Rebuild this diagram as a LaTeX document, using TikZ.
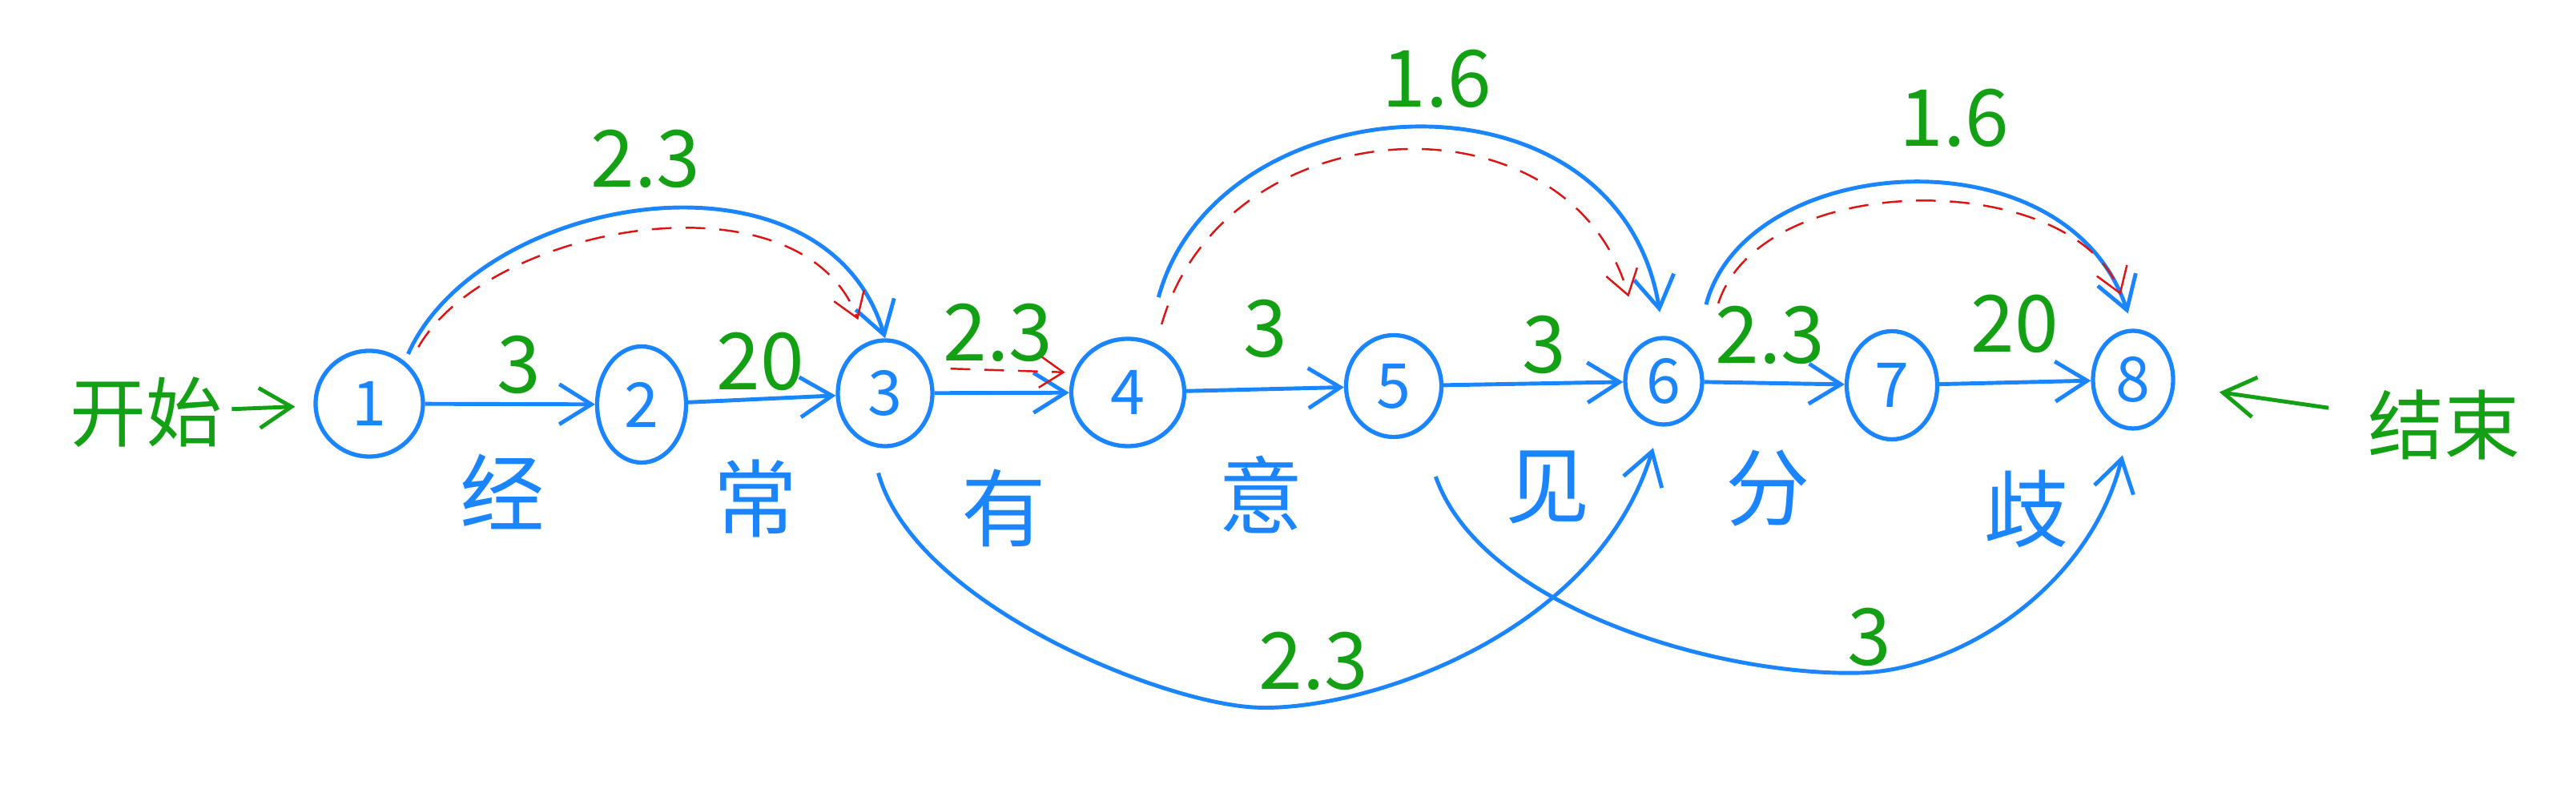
\documentclass[tikz,border=0pt]{standalone}
\usepackage{fontspec}
\newfontfamily\cjk{Noto Sans CJK SC}
\usepackage{xcolor}
\definecolor{hblue}{RGB}{26,133,255}
\definecolor{hgreen}{RGB}{20,160,20}
\definecolor{hred}{RGB}{220,20,20}
\usepackage{tikz}
\usetikzlibrary{arrows.meta,positioning,shapes.geometric}

\begin{document}
\begin{tikzpicture}[
  vert/.style={ellipse, draw=hblue, line width=1.5pt, text=hblue, inner sep=0pt, font=\cjk\fontsize{22}{26}\selectfont},
  link/.style={draw=hblue, line width=1.4pt, -{Straight Barb[length=4mm,width=5mm]}},
  bestpath/.style={draw=hred, line width=0.7pt, dash pattern=on 7pt off 5pt, -{Straight Barb[length=3mm,width=4mm]}},
  signarrow/.style={draw=hgreen, line width=1.4pt, -{Straight Barb[length=4mm,width=5mm]}},
  wt/.style={text=hgreen, font=\cjk\fontsize{28}{32}\selectfont},
  ch/.style={text=hblue, font=\cjk\fontsize{30}{34}\selectfont},
  signtext/.style={text=hgreen, font=\cjk\fontsize{27}{31}\selectfont},
]
  \useasboundingbox (0,0) rectangle (32.16,10);

  % lattice nodes
  \node[vert, minimum width=1.34cm, minimum height=1.32cm] (n1) at (4.61,4.96) {1};
  \node[vert, minimum width=1.11cm, minimum height=1.45cm] (n2) at (8.01,4.95) {2};
  \node[vert, minimum width=1.18cm, minimum height=1.32cm] (n3) at (11.05,5.09) {3};
  \node[vert, minimum width=1.41cm, minimum height=1.34cm] (n4) at (14.08,5.10) {4};
  \node[vert, minimum width=1.19cm, minimum height=1.27cm] (n5) at (17.40,5.18) {5};
  \node[vert, minimum width=0.96cm, minimum height=1.08cm] (n6) at (20.77,5.24) {6};
  \node[vert, minimum width=1.13cm, minimum height=1.35cm] (n7) at (23.62,5.19) {7};
  \node[vert, minimum width=1.00cm, minimum height=1.22cm] (n8) at (26.63,5.26) {8};

  \node[signtext] (start) at (1.82,4.85) {开始};
  \node[signtext] (stop) at (30.51,4.70) {结束};
  \draw[signarrow, shorten >=0.23cm] (start) -- (n1);
  \draw[signarrow, shorten <=0.37cm, shorten >=0.56cm] (stop) -- (n8);

  % single characters
  \draw[link] (n1) -- (n2);
  \draw[link] (n2) -- (n3);
  \draw[link] (n3) -- (n4);
  \draw[link] (n4) -- (n5);
  \draw[link] (n5) -- (n6);
  \draw[link] (n6) -- (n7);
  \draw[link] (n7) -- (n8);

  % words above
  \draw[link, shorten <=0.1cm] (n1.50) .. controls (6.0,7.6) and (10.3,8.3) .. (n3.north);
  \draw[link, shorten <=0.55cm, shorten >=0.3cm] (n4.70) .. controls (15.2,9.0) and (20.2,9.3) .. (n6.north);
  \draw[link, shorten <=0.6cm, shorten >=0.2cm] (n6.45) .. controls (21.8,8.1) and (25.8,8.4) .. (n8.north);

  % words below
  \draw[link, shorten <=0.35cm, shorten >=0.28cm] (n3.255) .. controls (11.4,2.5) and (14.4,1.25) .. (15.64,1.17)
    .. controls (16.9,1.09) and (19.9,2.0) .. (n6.265);
  \draw[link, shorten <=0.6cm, shorten >=0.32cm] (n5.300) .. controls (18.5,2.4) and (21.5,1.55) .. (23.23,1.6)
    .. controls (24.5,1.64) and (26.1,2.7) .. (n8.265);

  % best path
  \draw[bestpath, shorten <=0.25cm, shorten >=0.3cm] (n1.45) .. controls (6.1,7.2) and (10.0,7.9) .. (n3.110);
  \draw[bestpath, shorten <=0.27cm, shorten >=0.1cm] (n3.30) -- (n4.160);
  \draw[bestpath, shorten <=0.25cm, shorten >=0.6cm] (n4.60) .. controls (15.3,8.7) and (19.6,8.9) .. (n6.120);
  \draw[bestpath, shorten <=0.75cm, shorten >=0.45cm] (n6.30) .. controls (22.0,7.9) and (25.9,7.9) .. (n8.north);

  % weights
  \node[wt] (w12) at (6.48,5.45) {3};
  \node[wt] (w23) at (9.49,5.49) {20};
  \node[wt] (w34) at (12.46,5.85) {2.3};
  \node[wt] (w45) at (15.80,5.90) {3};
  \node[wt] (w56) at (19.28,5.70) {3};
  \node[wt] (w67) at (22.10,5.82) {2.3};
  \node[wt] (w78) at (25.15,5.96) {20};
  \node[wt] (w13) at (8.06,8.02) {2.3};
  \node[wt] (w46) at (17.94,9.02) {1.6};
  \node[wt] (w68) at (24.40,8.53) {1.6};
  \node[wt] (w36) at (16.40,1.75) {2.3};
  \node[wt] (w58) at (23.34,2.05) {3};

  % sentence
  \node[ch] (c1) at (6.27,3.86) {经};
  \node[ch] (c2) at (9.43,3.78) {常};
  \node[ch] (c3) at (12.53,3.66) {有};
  \node[ch] (c4) at (15.74,3.82) {意};
  \node[ch] (c5) at (19.32,3.92) {见};
  \node[ch] (c6) at (22.07,3.90) {分};
  \node[ch] (c7) at (25.30,3.65) {歧};
\end{tikzpicture}
\end{document}
